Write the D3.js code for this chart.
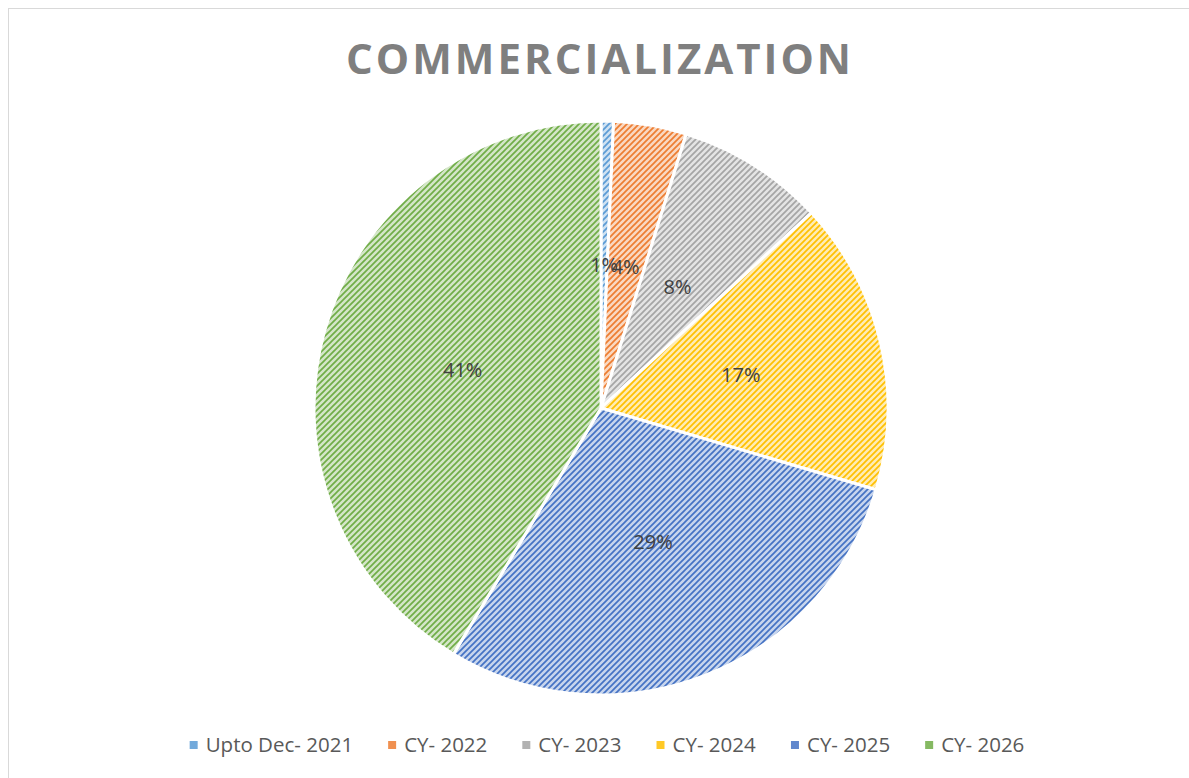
<!DOCTYPE html>
<html>
<head>
<meta charset="utf-8">
<script src="https://cdn.jsdelivr.net/npm/d3@7"></script>
<style>
  body { margin: 0; background: #fff; }
  svg { display: block; }
</style>
</head>
<body>
<svg id="chart" width="1189" height="778"></svg>
<script>
// chart data
var categories = ["Upto Dec- 2021", "CY- 2022", "CY- 2023", "CY- 2024", "CY- 2025", "CY- 2026"];
var shares = [0.7, 4.1, 8.3, 16.5, 29.0, 41.4];
var labels = ["1%", "4%", "8%", "17%", "29%", "41%"];
var colors = ["#5B9BD5", "#ED7D31", "#A5A5A5", "#FFC000", "#4472C4", "#70AD47"];
var title = "COMMERCIALIZATION";

var width = 1189, height = 778;
var cx = 601, cy = 408, radius = 287;

var svg = d3.select("#chart");

// frame of the chart area
svg.append("rect")
    .attr("x", 8.5).attr("y", 8.5)
    .attr("width", width).attr("height", height)
    .attr("fill", "none")
    .attr("stroke", "#d9d9d9");

// striped fills (wide upward diagonal)
var defs = svg.append("defs");
colors.forEach(function(c, i){
    var p = defs.append("pattern")
        .attr("id", "hatch" + i)
        .attr("patternUnits", "userSpaceOnUse")
        .attr("width", 6).attr("height", 6);
    p.append("rect").attr("width", 6).attr("height", 6)
        .attr("fill", d3.interpolateRgb("#ffffff", c)(0.3));
    p.append("path")
        .attr("d", "M-1,1 l2,-2 M0,6 l6,-6 M5,7 l2,-2")
        .attr("stroke", c)
        .attr("stroke-width", 1.7);
});

svg.append("text")
    .attr("x", 600).attr("y", 74)
    .attr("text-anchor", "middle")
    .attr("font-family", "'Open Sans', sans-serif")
    .attr("font-weight", "bold")
    .attr("font-size", 42)
    .attr("letter-spacing", 3)
    .attr("fill", "#7f7f7f")
    .text(title);

var pie = d3.pie().sort(null).value(function(d){ return d; });
var arcs = pie(shares);
var arc = d3.arc().innerRadius(0).outerRadius(radius);
var labelArc = d3.arc().innerRadius(radius * 0.5).outerRadius(radius * 0.5);

var g = svg.append("g").attr("transform", "translate(" + cx + "," + cy + ")");

g.selectAll("path.slice")
    .data(arcs)
    .enter().append("path")
    .attr("class", "slice")
    .attr("d", arc)
    .attr("fill", function(d, i){ return "url(#hatch" + i + ")"; })
    .attr("stroke", "#fff")
    .attr("stroke-width", 3);

g.selectAll("text.lbl")
    .data(arcs)
    .enter().append("text")
    .attr("class", "lbl")
    .attr("transform", function(d){ return "translate(" + labelArc.centroid(d) + ")"; })
    .attr("dy", "0.35em")
    .attr("text-anchor", "middle")
    .attr("font-family", "'Open Sans', sans-serif")
    .attr("font-size", 20)
    .attr("fill", "#404040")
    .text(function(d, i){ return labels[i]; });

// legend, centred under the pie
var legend = svg.append("g");
var items = legend.selectAll("g.item")
    .data(categories)
    .enter().append("g")
    .attr("class", "item");

items.append("rect")
    .attr("width", 8).attr("height", 8)
    .attr("y", -11)
    .attr("fill", function(d, i){ return colors[i]; })
    .attr("opacity", 0.85);

items.append("text")
    .attr("x", 16)
    .attr("font-family", "'Open Sans', sans-serif")
    .attr("font-size", 20.5)
    .attr("fill", "#595959")
    .text(function(d){ return d; });

var gap = 35, x = 0;
items.each(function(){
    var w = this.getBBox().width;
    d3.select(this).attr("transform", "translate(" + x + ",0)");
    x += w + gap;
});
var total = x - gap;
legend.attr("transform", "translate(" + (607 - total / 2) + ",752)");
</script>
</body>
</html>
